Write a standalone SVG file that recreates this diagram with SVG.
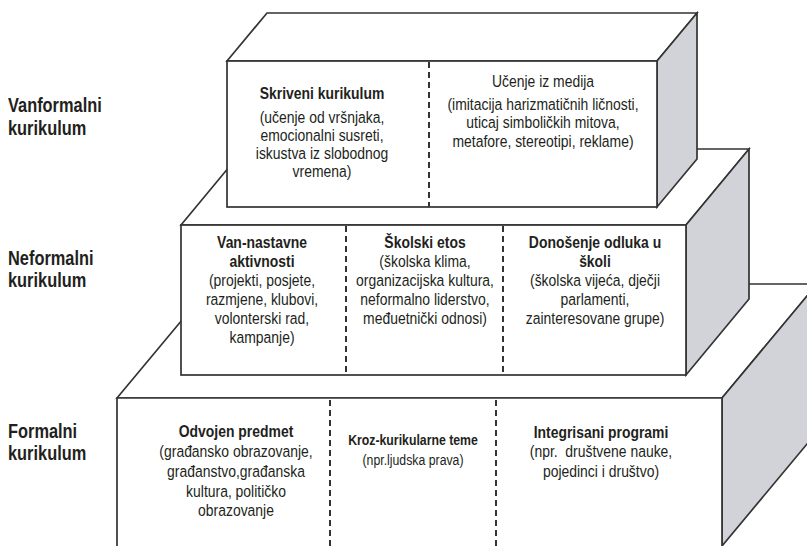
<svg xmlns="http://www.w3.org/2000/svg" width="807" height="546" viewBox="0 0 807 546">
<style>
.t{font-family:"Liberation Sans",Arial,sans-serif;fill:#231f20;text-anchor:middle;font-size:17px}
.b{font-weight:bold}
.s15{font-size:15px}
.lbl{font-family:"Liberation Sans",Arial,sans-serif;fill:#231f20;font-size:20px;font-weight:bold;text-anchor:start}
.face{fill:#fff;stroke:#333;stroke-width:1.7;stroke-linejoin:miter}
.side{fill:#d1d3d8;stroke:#333;stroke-width:1.7;stroke-linejoin:miter}
.dash{stroke:#333;stroke-width:2;stroke-dasharray:6 4;fill:none}
.pre{white-space:pre}
</style>
<rect width="807" height="546" fill="#fff"/>

<g id="box-formal">
<polygon class="face" points="117,398 212,284 817,284 722,398"/>
<polygon class="side" points="722,398 817,284 817,432 722,546"/>
<polygon class="face" points="117,398 722,398 722,550 117,550"/>
<line class="dash" x1="330" y1="400" x2="330" y2="546"/>
<line class="dash" x1="496" y1="400" x2="496" y2="546"/>
</g>

<g id="box-nonformal">
<polygon class="face" points="181,225 244,149 749,149 686,225"/>
<polygon class="side" points="686,225 749,149 749,299 686,375"/>
<rect class="face" x="181" y="225" width="505" height="150"/>
<line class="dash" x1="346" y1="226" x2="346" y2="375"/>
<line class="dash" x1="503" y1="226" x2="503" y2="375"/>
</g>

<g id="box-informal">
<polygon class="face" points="227,61 267,13 697,13 657,61"/>
<polygon class="side" points="657,61 697,13 697,159 657,207"/>
<rect class="face" x="227" y="61" width="430" height="146"/>
<line class="dash" x1="429" y1="62" x2="429" y2="207"/>
</g>

<g id="labels">
<g transform="translate(8,0) scale(0.82,1)">
<text class="lbl" x="0" y="112">Vanformalni</text>
<text class="lbl" x="0" y="135">kurikulum</text>
<text class="lbl" x="0" y="265">Neformalni</text>
<text class="lbl" x="0" y="287">kurikulum</text>
<text class="lbl" x="0" y="438">Formalni</text>
<text class="lbl" x="0" y="460">kurikulum</text>
</g>
</g>

<g id="node-skriveni" transform="translate(322,0) scale(0.82,1)">
<text class="t b" x="0" y="99">Skriveni kurikulum</text>
<text class="t" x="0" y="123">(učenje od vršnjaka,</text>
<text class="t" x="0" y="141">emocionalni susreti,</text>
<text class="t" x="0" y="159">iskustva iz slobodnog</text>
<text class="t" x="0" y="177">vremena)</text>
</g>

<g id="node-mediji" transform="translate(543,0) scale(0.82,1)">
<text class="t" x="0" y="87">Učenje iz medija</text>
<text class="t" x="0" y="110">(imitacija harizmatičnih ličnosti,</text>
<text class="t" x="0" y="128">uticaj simboličkih mitova,</text>
<text class="t" x="0" y="147">metafore, stereotipi, reklame)</text>
</g>

<g id="node-vannastavne" transform="translate(262,0) scale(0.82,1)">
<text class="t b" x="0" y="248">Van-nastavne</text>
<text class="t b" x="0" y="267">aktivnosti</text>
<text class="t" x="0" y="286">(projekti, posjete,</text>
<text class="t" x="0" y="305">razmjene, klubovi,</text>
<text class="t" x="0" y="324">volonterski rad,</text>
<text class="t" x="0" y="343">kampanje)</text>
</g>

<g id="node-etos" transform="translate(425,0) scale(0.82,1)">
<text class="t b" x="0" y="248">Školski etos</text>
<text class="t" x="0" y="267">(školska klima,</text>
<text class="t" x="0" y="286">organizacijska kultura,</text>
<text class="t" x="0" y="305">neformalno liderstvo,</text>
<text class="t" x="0" y="324">međuetnički odnosi)</text>
</g>

<g id="node-odluke" transform="translate(595,0) scale(0.82,1)">
<text class="t b" x="0" y="248">Donošenje odluka u</text>
<text class="t b" x="0" y="267">školi</text>
<text class="t" x="0" y="286">(školska vijeća, dječji</text>
<text class="t" x="0" y="305">parlamenti,</text>
<text class="t" x="0" y="324">zainteresovane grupe)</text>
</g>

<g id="node-predmet" transform="translate(236,0) scale(0.82,1)">
<text class="t b" x="0" y="437">Odvojen predmet</text>
<text class="t" x="0" y="457">(građansko obrazovanje,</text>
<text class="t" x="0" y="477">građanstvo,građanska</text>
<text class="t" x="0" y="497">kultura, političko</text>
<text class="t" x="0" y="516">obrazovanje</text>
</g>

<g id="node-teme" transform="translate(413,0) scale(0.82,1)">
<text class="t b s15" x="0" y="445">Kroz-kurikularne teme</text>
<text class="t s15" x="0" y="465">(npr.ljudska prava)</text>
</g>

<g id="node-programi" transform="translate(601,0) scale(0.82,1)">
<text class="t b" x="0" y="438">Integrisani programi</text>
<text class="t pre" x="0" y="457">(npr.  društvene nauke,</text>
<text class="t" x="0" y="477">pojedinci i društvo)</text>
</g>
</svg>
